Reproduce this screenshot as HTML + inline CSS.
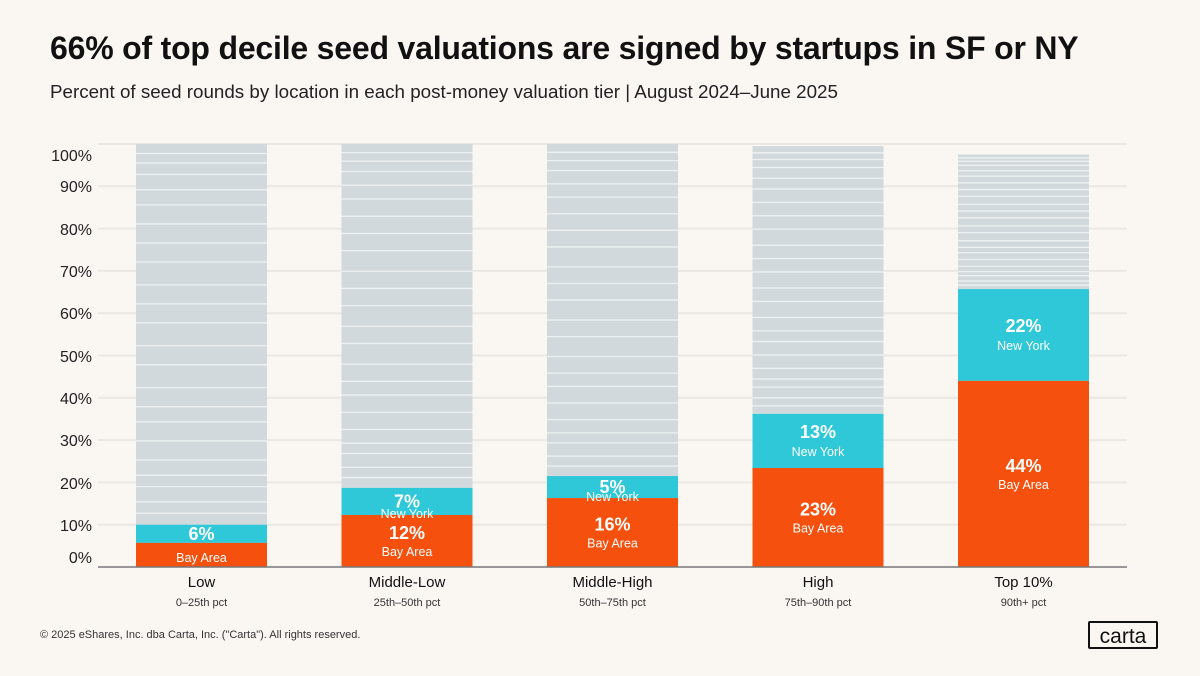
<!DOCTYPE html>
<html><head><meta charset="utf-8"><style>
body{margin:0;background:#faf7f3;font-family:"Liberation Sans",sans-serif;}
#wrap{position:relative;width:1200px;height:676px;overflow:hidden;background:#faf7f3;}
h1{position:absolute;left:50px;top:30px;margin:0;font-size:32px;font-weight:bold;color:#111;letter-spacing:-0.2px;}
.sub{position:absolute;left:50px;top:81px;font-size:18.8px;color:#222;}
.foot{position:absolute;left:40px;top:629px;font-size:11px;color:#333;}
.logo{position:absolute;left:1088px;top:621px;width:70px;height:28px;border:2px solid #111;border-radius:2px;font-size:21px;text-align:center;line-height:27px;color:#111;box-sizing:border-box;}
</style></head><body><div id="wrap">
<h1>66% of top decile seed valuations are signed by startups in SF or NY</h1>
<div class="sub">Percent of seed rounds by location in each post-money valuation tier | August 2024–June 2025</div>
<svg id="chart" width="1200" height="676" style="position:absolute;left:0;top:0"></svg>
<div class="foot">© 2025 eShares, Inc. dba Carta, Inc. ("Carta"). All rights reserved.</div>
<div class="logo">carta</div>
</div>
<script>
const categories=["Low","Middle-Low","Middle-High","High","Top 10%"];
const subLabels=["0–25th pct","25th–50th pct","50th–75th pct","75th–90th pct","90th+ pct"];
const bayArea=[5.7,12.3,16.3,23.4,44];
const newYork=[4.3,6.4,5.2,12.8,21.7];
const otherTop=[100,100,100,99.5,97.5];
const bayLabels=["","12%","16%","23%","44%"];
const nyLabels=["6%","7%","5%","13%","22%"];
const yTicks=[0,10,20,30,40,50,60,70,80,90,100];
const yTickLabelPos=[557,525,483,440,398,356,313,271,229,186,155];
const NS="http://www.w3.org/2000/svg";
const svg=document.getElementById('chart');
const base=567,top100=144;
const y=v=>base-(base-top100)*v/100;
const x0=136,step=205.5,bw=131;
const xb=i=>x0+i*step;
function mk(t,a){const e=document.createElementNS(NS,t);for(const k in a)e.setAttribute(k,a[k]);svg.appendChild(e);return e;}
yTicks.forEach((t,i)=>{
 if(t>0){const g=mk('line',{x1:98,x2:1127,y1:y(t),y2:y(t),stroke:'#ebe8e4','stroke-width':2});
 
 }
 const l=mk('text',{x:92,y:yTickLabelPos[i]+6,'text-anchor':'end','font-size':16,fill:'#222'});
 l.textContent=t+'%';
 
 
});
const stripes=[3,6,10,13,17,22,27,31,36,42,47,53,58,63,69,74,79,84,88,92,95,97.5];
categories.forEach((c,i)=>{
 const x=xb(i);
 const ny=bayArea[i]+newYork[i];
 const g=mk('rect',{x:x,y:y(otherTop[i]),width:bw,height:y(ny)-y(otherTop[i]),fill:'#d1d9dc'});
 
 
 stripes.forEach(s=>{const v=ny+(otherTop[i]-ny)*s/100;const l=mk('line',{x1:x,x2:x+bw,y1:y(v),y2:y(v),stroke:'#eef1f2','stroke-width':1.3});
  
  });
 const n=mk('rect',{x:x,y:y(ny),width:bw,height:y(bayArea[i])-y(ny),fill:'#2ec8d9'});
 
 
 const b=mk('rect',{x:x,y:y(bayArea[i]),width:bw,height:base-y(bayArea[i]),fill:'#f5500e'});
 
 
 const cx=x+bw/2;
 const nm=(y(bayArea[i])+y(ny))/2;
 const nl=mk('text',{x:cx,y:(newYork[i]<8?nm+6:nm-3),'text-anchor':'middle','font-size':18,'font-weight':'bold',fill:'#fff'});
 nl.textContent=nyLabels[i];
 
 
 if(i>0){const ns=mk('text',{x:cx,y:(newYork[i]<8?y(bayArea[i])+3:nm+15),'text-anchor':'middle','font-size':12.5,fill:'#fff'});
 ns.textContent='New York';
 
 }
 const bm=(y(bayArea[i])+base)/2;
 if(bayLabels[i]){const bl=mk('text',{x:cx,y:bm-2,'text-anchor':'middle','font-size':18,'font-weight':'bold',fill:'#fff'});
 bl.textContent=bayLabels[i];
 
 }
 const bs=mk('text',{x:cx,y:bayLabels[i]?bm+15:562,'text-anchor':'middle','font-size':12.5,fill:'#fff'});
 bs.textContent='Bay Area';
 
 
 const cl=mk('text',{x:cx,y:587,'text-anchor':'middle','font-size':15,fill:'#111'});
 cl.textContent=c;
 
 
 const sl=mk('text',{x:cx,y:606,'text-anchor':'middle','font-size':11,fill:'#333'});
 sl.textContent=subLabels[i];
 
 
});
const ax=mk('line',{x1:98,x2:1127,y1:base,y2:base,stroke:'#777','stroke-width':1.5});


</script></body></html>
